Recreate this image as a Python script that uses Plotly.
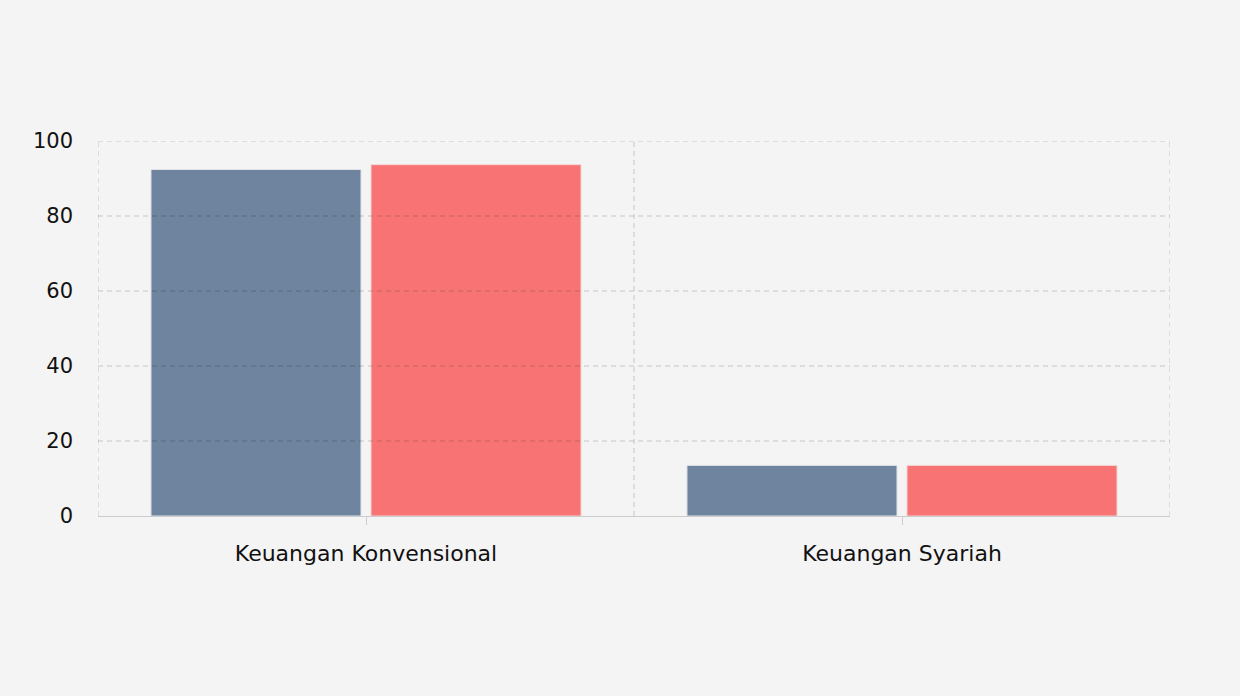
import plotly.graph_objects as go

categories = ["Keuangan Konvensional", "Keuangan Syariah"]
series_a = [92.4, 13.5]
series_b = [93.7, 13.5]
y_ticks = [0, 20, 40, 60, 80, 100]

BG = "#f4f4f4"
AXIS = "#cccccc"
GRID = "rgba(0,0,0,0.19)"
FONT = "DejaVu Sans, Verdana, sans-serif"

fig = go.Figure()
fig.add_trace(go.Bar(
    x=categories, y=series_a, name="A",
    marker=dict(color="#6f849e", line=dict(color="#dfe3e8", width=1)),
))
fig.add_trace(go.Bar(
    x=categories, y=series_b, name="B",
    marker=dict(color="#f87474", line=dict(color="#f3d6d6", width=1)),
))

# dashed grid drawn over the bars, like the original
for v in y_ticks[1:]:
    fig.add_shape(type="line", xref="paper", x0=0, x1=1, yref="y", y0=v, y1=v,
                  line=dict(color=GRID, width=1, dash="5px,4px"), layer="above")
for i in range(len(categories) + 1):
    fig.add_shape(type="line", xref="x", x0=i - 0.5, x1=i - 0.5, yref="paper", y0=0, y1=1,
                  line=dict(color=GRID, width=1, dash="5px,4px"), layer="above")

fig.update_layout(
    width=1240, height=696,
    margin=dict(l=98, r=70, t=141, b=180),
    paper_bgcolor=BG, plot_bgcolor=BG,
    font=dict(family=FONT, size=21, color="#111111"),
    showlegend=False,
    barmode="group", bargap=0.179, bargroupgap=0.0455,
    xaxis=dict(
        type="category", range=[-0.5, 1.5],
        showgrid=False, zeroline=False,
        showline=True, linecolor=AXIS, linewidth=1,
        ticks="outside", ticklen=8, tickcolor=AXIS,
        ticklabelstandoff=10, tickfont=dict(size=22),
    ),
    yaxis=dict(
        range=[0, 100], tickvals=y_ticks,
        showgrid=False, zeroline=False, showline=False,
        ticklabelstandoff=24,
    ),
)

fig.write_html("out.html", config={"displayModeBar": False},
               post_script="document.body.style.margin='0';")
